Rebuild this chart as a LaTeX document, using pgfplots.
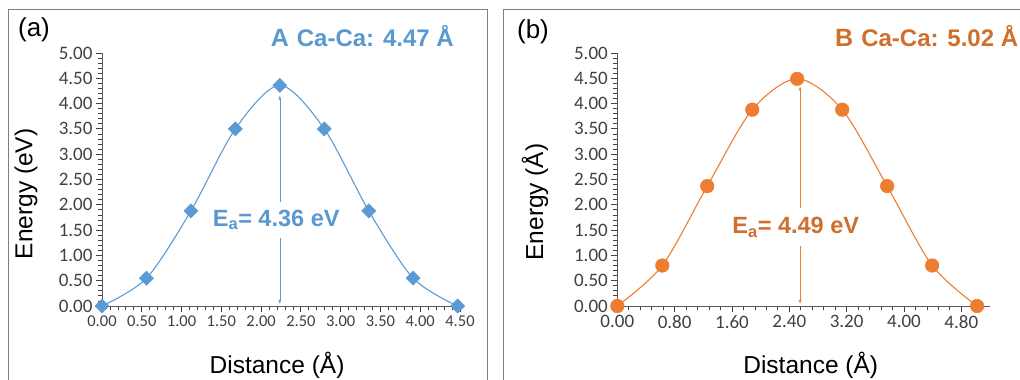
\documentclass[border=0pt]{standalone}
\usepackage{pgfplots}
\pgfplotsset{compat=1.18}
\usetikzlibrary{arrows.meta}
\usepackage{fontspec}
\setmainfont{Liberation Sans}
\newfontfamily\tickfont{Carlito}
\definecolor{cblue}{HTML}{5B9BD5}
\definecolor{tblue}{HTML}{5A98CF}
\definecolor{corange}{HTML}{ED7D31}
\definecolor{torange}{HTML}{CF6F2B}
\definecolor{tickgray}{HTML}{404040}
\definecolor{axgray}{HTML}{595959}
\definecolor{framegray}{HTML}{7F7F7F}
\pgfplotsset{
  panel/.style={
    scale only axis, anchor=south west,
    axis lines=left, axis line style={-, axgray, line width=0.8pt},
    ymin=0, ymax=5, ytick={0,0.5,...,5.01},
    minor y tick num=4, minor x tick num=4,
    tick align=outside, major tick length=6pt, minor tick length=4.5pt,
    tick style={draw=tickgray, line width=0.8pt},
    every major tick/.append style={draw=tickgray, line width=0.8pt},
    every minor tick/.append style={draw=tickgray, line width=0.8pt},
    clip=false,
    /pgf/number format/assume math mode=true,
    /pgf/number format/fixed, /pgf/number format/fixed zerofill, /pgf/number format/precision=2,
    ticklabel style={font=\tickfont\fontsize{19}{19}\selectfont, text=tickgray},
    label style={font=\fontsize{24.5}{24.5}\selectfont, text=black},
  }
}
\begin{document}
\begin{tikzpicture}
\useasboundingbox (0,0) rectangle (1020pt,380pt);
% panel frames
\draw[framegray, line width=1pt] (8pt,0pt) -- (8pt,370pt) -- (487pt,370pt) -- (487pt,0pt);
\draw[framegray, line width=1pt] (503pt,0pt) -- (503pt,370pt) -- (1020pt,370pt);

% Panel (a)
\begin{axis}[panel, at={(102pt,74pt)}, width=358pt, height=253pt,
  xmin=0, xmax=4.5, xtick={0,0.5,...,4.51},
  xticklabel style={font=\tickfont\fontsize{16.5}{16.5}\selectfont},
  xlabel={Distance (Å)}, ylabel={Energy (eV)},
  xlabel style={at={(axis description cs:0.489,-0.233)}, anchor=center},
  ylabel style={at={(axis description cs:-0.212,0.443)}, anchor=center},
]
\addplot[cblue, line width=1.1pt, smooth, mark=square*, mark size=5pt,
  mark options={rotate=45, fill=cblue, draw=cblue, line width=0.5pt}]
  coordinates {(0,0) (0.559,0.55) (1.118,1.88) (1.676,3.50) (2.235,4.36)
               (2.794,3.50) (3.353,1.88) (3.911,0.55) (4.47,0)};
\draw[cblue, line width=0.6pt, {Latex[length=4pt,width=3pt]}-{Latex[length=4pt,width=3pt]}]
  (axis cs:2.235,4.16) -- (axis cs:2.235,0.04);
\node[fill=white, inner xsep=1pt, inner ysep=8pt, text=tblue,
  font=\fontsize{23.5}{23.5}\selectfont\bfseries] at (axis cs:2.19,1.70) {E\textsubscript{a}= 4.36 eV};
\end{axis}

% Panel (b)
\begin{axis}[panel, at={(617.3pt,74pt)}, width=372.7pt, height=253pt,
  xmin=0, xmax=5.2, xtick={0,0.8,...,4.81},
  xlabel={Distance (Å)}, ylabel={Energy (Å)},
  xlabel style={at={(axis description cs:0.519,-0.233)}, anchor=center},
  ylabel style={at={(axis description cs:-0.221,0.411)}, anchor=center},
]
\addplot[corange, line width=1.1pt, smooth, mark=*, mark size=6.8pt,
  mark options={fill=corange, draw=corange, line width=0.5pt}]
  coordinates {(0,0) (0.628,0.80) (1.255,2.37) (1.883,3.88) (2.51,4.49)
               (3.138,3.88) (3.765,2.37) (4.393,0.80) (5.02,0)};
\draw[corange, line width=0.6pt, {Latex[length=4pt,width=3pt]}-{Latex[length=4pt,width=3pt]}]
  (axis cs:2.55,4.34) -- (axis cs:2.55,0.04);
\node[fill=white, inner xsep=1pt, inner ysep=9pt, text=torange,
  font=\fontsize{23.5}{23.5}\selectfont\bfseries] at (axis cs:2.49,1.56) {E\textsubscript{a}= 4.49 eV};
\end{axis}

% titles and panel labels
\node[anchor=base east, text=tblue, inner sep=0pt] at (454pt,333pt)
  {{\fontsize{25}{25}\selectfont\bfseries A}\hspace{8pt}{\fontsize{24}{24}\selectfont\bfseries Ca-Ca: 4.47 Å}};
\node[anchor=base west, text=torange, inner sep=0pt] at (835pt,333pt)
  {{\fontsize{25}{25}\selectfont\bfseries B}\hspace{8pt}{\fontsize{24}{24}\selectfont\bfseries Ca-Ca: 5.02 Å}};
\node[font=\fontsize{26}{26}\selectfont, inner sep=0pt] at (34pt,350pt) {(a)};
\node[font=\fontsize{26}{26}\selectfont, inner sep=0pt] at (533pt,348pt) {(b)};
\end{tikzpicture}
\end{document}
